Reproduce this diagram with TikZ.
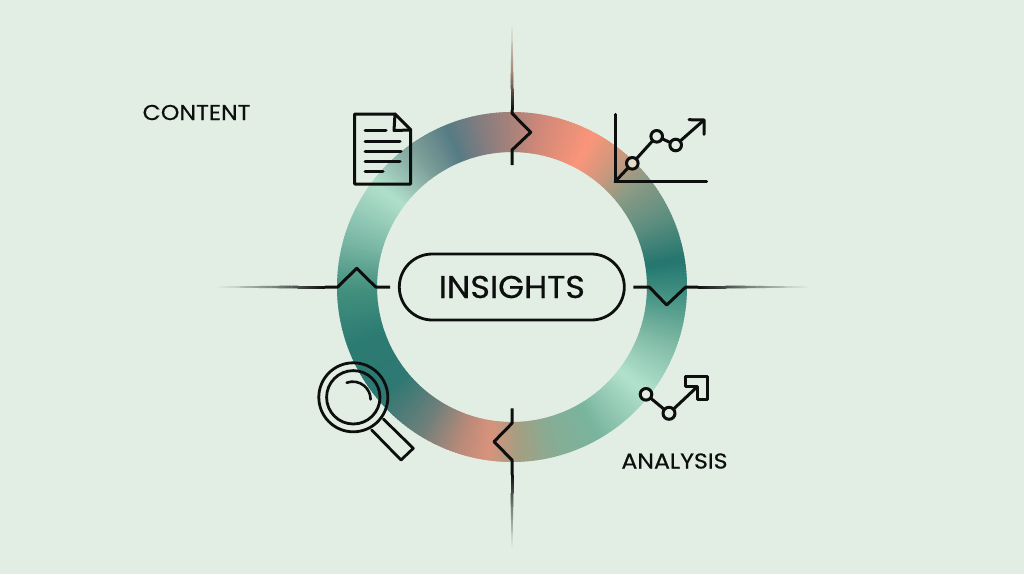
\documentclass[tikz,border=0pt]{standalone}
\usepackage{fontspec}
\setmainfont{Poppins}
\newfontfamily\labfont[FakeStretch=1.1,FakeBold=0.5]{Poppins}
\newfontfamily\corefont[FakeStretch=1.06,FakeBold=0.6]{Poppins}
\definecolor{bgc}{HTML}{E2EEE4}
\definecolor{ink}{HTML}{0C0F0E}
\definecolor{fadebrown}{HTML}{A08070}
\definecolor{fadegrey}{HTML}{6E7672}
\definecolor{dotpeach}{HTML}{E5DCC8}
\tikzset{
  icon/.style={draw=ink,line width=3pt,line join=round,line cap=round},
  thin icon/.style={icon},
  dot/.style={icon,fill=bgc},
  lab/.style={text=ink,inner sep=0pt,font=\labfont\fontsize{21.5}{22}\selectfont},
  pill/.style={draw=ink,line width=2.8pt,rounded corners=33pt,minimum width=225pt,minimum height=66pt,inner sep=0pt,text=ink,font=\corefont\fontsize{31.5}{32}\selectfont}
}
\newcommand{\ringpart}[4]{%
  \definecolor{ca}{HTML}{#3}\definecolor{cb}{HTML}{#4}%
  \pgfmathtruncatemacro{\nseg}{#2-#1-1}%
  \foreach \i in {0,...,\nseg}{%
    \pgfmathsetmacro{\aa}{#1+\i}%
    \pgfmathsetmacro{\ab}{#1+\i+1.4}%
    \pgfmathtruncatemacro{\pc}{100*(\i+0.5)/(#2-#1)}%
    \colorlet{cc}{cb!\pc!ca}%
    \fill[cc] (\aa:175) arc[start angle=\aa,end angle=\ab,radius=175] -- (\ab:135) arc[start angle=\ab,end angle=\aa,radius=135] -- cycle;
  }%
}
% fading tick: solid end (#1,#2) to faded end (#3,#4), through colour #5, tapering (filled quads)
\newcommand{\fadetick}[5]{%
  \pgfmathsetmacro{\dlen}{veclen(#3-#1,#4-#2)}%
  \pgfmathsetmacro{\nx}{-(#4-#2)/\dlen}%
  \pgfmathsetmacro{\ny}{(#3-#1)/\dlen}%
  \foreach \i in {0,...,49}{%
    \pgfmathsetmacro{\ta}{\i/50}%
    \pgfmathsetmacro{\tb}{(\i+1.2)/50}%
    \pgfmathsetmacro{\tm}{(\i+0.5)/50}%
    \pgfmathsetmacro{\ha}{\ta<0.25 ? 1.5 : 1.5-1.1*(\ta-0.25)/0.75}%
    \pgfmathsetmacro{\hb}{\tb<0.25 ? 1.5 : 1.5-1.1*(\tb-0.25)/0.75}%
    \pgfmathtruncatemacro{\pa}{\tm<0.4 ? 100*(1-\tm/0.4) : 0}%
    \pgfmathtruncatemacro{\pb}{\tm<0.4 ? 100 : 100*(1-(\tm-0.4)/0.6)}%
    \colorlet{cc}{#5!\pb!bgc}%
    \colorlet{cc}{ink!\pa!cc}%
    \fill[cc] ({#1+(#3-#1)*\ta+\nx*\ha},{#2+(#4-#2)*\ta+\ny*\ha}) -- ({#1+(#3-#1)*\tb+\nx*\hb},{#2+(#4-#2)*\tb+\ny*\hb}) -- ({#1+(#3-#1)*\tb-\nx*\hb},{#2+(#4-#2)*\tb-\ny*\hb}) -- ({#1+(#3-#1)*\ta-\nx*\ha},{#2+(#4-#2)*\ta-\ny*\ha}) -- cycle;
  }%
}
\begin{document}
\begin{tikzpicture}[x=1pt,y=-1pt]
\useasboundingbox (0,0) rectangle (1024,574);
\fill[bgc] (0,0) rectangle (1024,574);
% ring
\begin{scope}[shift={(512,287)},x=1pt,y=1pt]
\ringpart{-180}{-160}{45917F}{2B7B72}
\ringpart{-160}{-140}{2B7B72}{2F7873}
\ringpart{-140}{-122}{2F7873}{6F7F7B}
\ringpart{-122}{-108}{6F7F7B}{B98A78}
\ringpart{-108}{-98}{B98A78}{D9927C}
\ringpart{-98}{-88}{D9927C}{A59E82}
\ringpart{-88}{-75}{A59E82}{86AD94}
\ringpart{-75}{-60}{86AD94}{79B49F}
\ringpart{-60}{-38}{79B49F}{B2E2CE}
\ringpart{-38}{-20}{B2E2CE}{80BBA6}
\ringpart{-20}{-5}{80BBA6}{4A9686}
\ringpart{-5}{9}{4A9686}{24766F}
\ringpart{9}{25}{24766F}{5F8F80}
\ringpart{25}{40}{5F8F80}{8E9B85}
\ringpart{40}{50}{8E9B85}{C9987E}
\ringpart{50}{62}{C9987E}{FB9579}
\ringpart{62}{80}{FB9579}{D08878}
\ringpart{80}{90}{D08878}{A8827A}
\ringpart{90}{100}{A8827A}{877D7F}
\ringpart{100}{112}{877D7F}{567B84}
\ringpart{112}{125}{567B84}{7D9E98}
\ringpart{125}{143}{7D9E98}{B0E0CC}
\ringpart{143}{165}{B0E0CC}{78B5A3}
\ringpart{165}{180}{78B5A3}{45917F}
\end{scope}
% fading ticks
\fadetick{512}{110}{512}{22}{fadebrown}
\fadetick{512}{475}{512}{550}{fadegrey}
\fadetick{325}{287}{214}{287}{fadegrey}
\fadetick{698}{287}{812}{287}{fadegrey}
% zigzags
\draw[icon,line cap=butt] (512,110) -- (512,113.3) -- (530.7,132.3) -- (512,150) -- (512,165);
\draw[icon,line cap=butt] (512,408.3) -- (512,423.3) -- (494,441.7) -- (512,460) -- (512,475);
\draw[icon,line cap=butt] (325,287) -- (337.7,287) -- (356.7,268.3) -- (375.7,287) -- (390,287);
\draw[icon,line cap=butt] (633.3,287) -- (649.3,287) -- (666.7,305) -- (685.7,287) -- (698,287);
% pill
\node[pill] (core) at (511.8,287) {INSIGHTS};
% labels
\node[lab] (content) at (196.5,112.5) {CONTENT};
\node[lab] (analysis) at (674.5,461) {ANALYSIS};
% document icon
\draw[icon] (354.7,114) -- (395,114) -- (410.7,129.8) -- (410.7,184) -- (354.7,184) -- cycle;
\draw[icon] (395,114) -- (394,130.5) -- (410.7,130);
\foreach \yy/\xx in {130.7/386,141/400,151/401,161/400,171/383}
  \draw[thin icon] (365,\yy) -- (\xx,\yy);
% chart icon
\draw[icon] (615,114.3) -- (615,181.7) -- (706.7,181.7);
\draw[icon] (615,181.7) -- (632.3,163.3) -- (656.7,136.3) -- (675.7,145) -- (704,120);
\draw[icon] (689,119.7) -- (704,120) -- (704,134.3);
\draw[dot,fill=dotpeach] (632.3,163.3) circle[radius=5.8];
\draw[dot] (656.7,136.3) circle[radius=5.8];
\draw[dot] (675.7,145) circle[radius=5.8];
% magnifier
\draw[icon,line width=2.8pt] (353.3,397.3) circle[radius=34.5];
\draw[icon,line width=2.8pt] (353.3,397.3) circle[radius=26.7];
\draw[icon,line width=2.6pt] (346.7,382.7) arc[start angle=-110,end angle=0,radius=17.8];
\draw[icon,line width=2.8pt] (383.3,419) -- (413.3,448.3) -- (401,460) -- (371.7,430);
% analysis icon
\draw[icon] (646,394.3) -- (669,413.3) -- (697.3,386.7);
\draw[icon,fill=bgc] (685,376.7) -- (707.7,376.7) -- (707.7,399.3) -- (697.3,399.3) -- (697.3,386.7) -- (685,386.7) -- cycle;
\draw[dot] (646,394.3) circle[radius=5.8];
\draw[dot] (669,413.3) circle[radius=6];
\end{tikzpicture}
\end{document}
